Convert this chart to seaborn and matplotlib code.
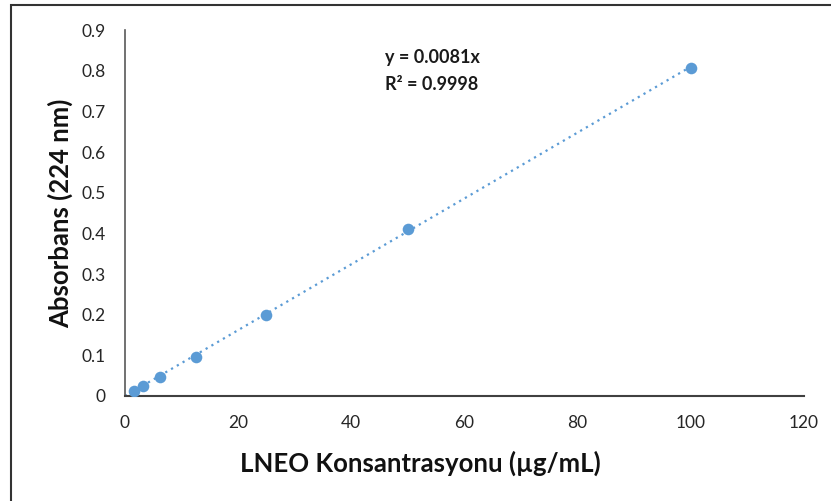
import matplotlib
matplotlib.use("Agg")
import matplotlib.pyplot as plt
import seaborn as sns
import numpy as np
import pandas as pd
from matplotlib.patches import Rectangle

concentration = [1.5625, 3.125, 6.25, 12.5, 25, 50, 100]
absorbance = [0.012, 0.024, 0.046, 0.097, 0.198, 0.410, 0.806]
slope = 0.0081
x_ticks = [0, 20, 40, 60, 80, 100, 120]
y_ticks = [0, 0.1, 0.2, 0.3, 0.4, 0.5, 0.6, 0.7, 0.8, 0.9]
y_tick_labels = ["0", "0.1", "0.2", "0.3", "0.4", "0.5", "0.6", "0.7", "0.8", "0.9"]

sns.set_style("white")
plt.rcParams['font.family'] = ['Lato', 'DejaVu Sans']

df = pd.DataFrame({"x": concentration, "y": absorbance})
trend = pd.DataFrame({"x": [0, 100], "y": [0, slope * 100]})

fig = plt.figure(figsize=(8.31, 5.01), dpi=100)
ax = fig.add_axes([0.1504, 0.2096, 0.8171, 0.7304])

color = "#5B9BD5"
sns.lineplot(data=trend, x="x", y="y", ax=ax, color=color, linestyle=(0, (1, 2)),
             linewidth=1.6, legend=False)
sns.scatterplot(data=df, x="x", y="y", ax=ax, color=color, s=70, edgecolor=color,
                linewidth=0, zorder=3)

ax.set_xlim(0, 120)
ax.set_ylim(0, 0.9)
ax.set_xticks(x_ticks)
ax.set_yticks(y_ticks)
ax.set_yticklabels(y_tick_labels)
ax.tick_params(axis="both", length=0, labelsize=12.5, colors="#262626")
ax.tick_params(axis="y", pad=14)
ax.tick_params(axis="x", pad=14)
for s in ["top", "right"]:
    ax.spines[s].set_visible(False)
ax.spines["left"].set_color("#595959")
ax.spines["bottom"].set_color("#404040")
ax.spines["left"].set_linewidth(1.2)
ax.spines["bottom"].set_linewidth(1.5)

ax.set_xlabel("LNEO Konsantrasyonu (µg/mL)", fontsize=18.5, fontweight="bold",
              color="#111111")
ax.xaxis.set_label_coords(0.4345, -0.183)
ax.xaxis.label.set_va("center")
ax.set_ylabel("Absorbans (224 nm)", fontsize=18.5, fontweight="bold",
              color="#111111")
ax.yaxis.set_label_coords(-0.095, 0.5)
ax.yaxis.label.set_va("center")

ax.text(0.383, (396 - 57) / 366, "y = 0.0081x", transform=ax.transAxes,
        fontsize=13, fontweight="bold", color="#1a1a1a", va="center", ha="left")
ax.text(0.383, (396 - 84) / 366, "R² = 0.9998", transform=ax.transAxes,
        fontsize=13, fontweight="bold", color="#1a1a1a", va="center", ha="left")

fig.patches.append(Rectangle((11 / 831, -0.1), 2.0, 1 - 5 / 501 + 0.1,
                             transform=fig.transFigure, fill=False,
                             edgecolor="#333333", linewidth=1.5))

fig.savefig("out.png", dpi=100)
